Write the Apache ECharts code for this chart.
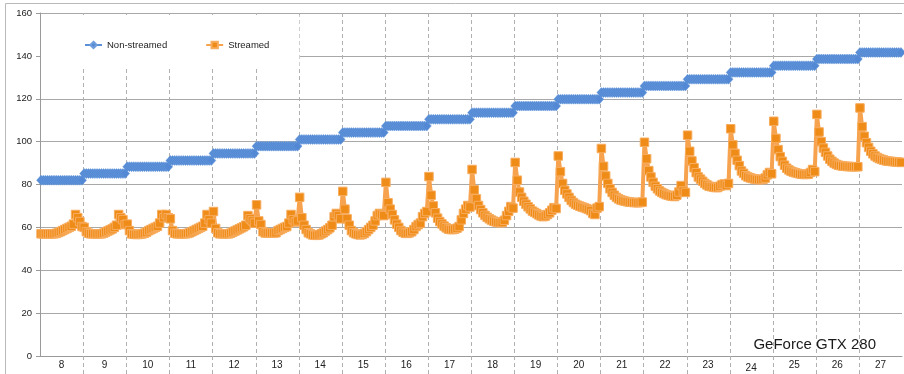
<!DOCTYPE html>
<html>
<head>
<meta charset="utf-8">
<script src="https://cdn.jsdelivr.net/npm/echarts@6/dist/echarts.min.js"></script>
<style>
  html, body { margin: 0; padding: 0; background: #fff; }
  #chart { width: 904px; height: 374px; }
</style>
</head>
<body>
<div id="chart"></div>
<script>
// Size groups shown on the category axis
const sizes = ['8', '9', '10', '11', '12', '13', '14', '15', '16', '17',
               '18', '19', '20', '21', '22', '23', '24', '25', '26', '27'];

// Non-streamed timing: one level per size group
const nonStreamed = [82, 85.1, 88.3, 91.2, 94.5, 97.9, 101, 104.2, 107.3, 110.4,
                     113.5, 116.6, 119.8, 122.9, 126, 129.1, 132.3, 135.4, 138.5, 141.6];

// Streamed timing: 20 samples inside each size group
const streamed8  = [57, 57, 57, 57, 57, 57, 57, 57.2, 57.6, 58, 58.5, 59, 59.5, 60, 60.5, 61.5, 66, 64.5, 62.7, 60.4];
const streamed9  = [60, 58, 57.3, 57, 57, 57, 57, 57, 57, 57.3, 57.8, 58.3, 58.8, 59.3, 60, 61, 66, 64.5, 63.6, 61.3];
const streamed10 = [61.5, 58.5, 57, 56.8, 56.7, 56.7, 56.8, 57, 57.3, 57.8, 58.5, 59, 59.5, 60, 60.5, 62, 66, 64.5, 66, 64.5];
const streamed11 = [64, 58.5, 57.3, 57, 57, 57, 57, 57, 57.2, 57.5, 58, 58.5, 59, 59.5, 60, 60.5, 62, 66, 63.6, 62];
const streamed12 = [67.4, 59.5, 57.5, 57, 57, 57, 57, 57, 57.3, 57.8, 58.3, 58.8, 59.3, 59.8, 60.3, 61, 65.5, 64, 63, 62];
const streamed13 = [70.5, 63, 61.3, 58, 57.4, 57.4, 57.4, 57.4, 57.4, 57.5, 58.5, 59, 59.5, 60, 60.4, 62, 66, 63.6, 62.5, 63];
const streamed14 = [74, 64.5, 61, 59, 57.5, 57, 56.5, 56.3, 56.3, 56.5, 57, 57.5, 58.3, 59, 59.8, 61, 65, 66.5, 65.5, 64];
const streamed15 = [76.8, 68.5, 64, 61, 58.5, 57.5, 57, 56.7, 56.5, 56.7, 57.2, 58, 59, 60, 61, 63, 65.5, 66.5, 66, 65.5];
const streamed16 = [81, 71.5, 68.5, 66, 63.5, 61.5, 60, 58.5, 57.7, 57.3, 57.2, 57.5, 58, 59, 60.4, 61.3, 62, 65, 66.5, 67.4];
const streamed17 = [83.7, 75, 70, 66.8, 64.3, 62.7, 61.6, 60.6, 59.8, 59.2, 59, 59, 59.2, 59.6, 60.4, 63.5, 66.5, 68.5, 70.2, 69.5];
const streamed18 = [87, 77.5, 73.3, 70.2, 68.3, 66.8, 65.6, 64.7, 64, 63.4, 62.9, 62.6, 62.3, 62.2, 62.3, 63.3, 65.5, 67.5, 69.7, 69];
const streamed19 = [90.3, 82, 76.5, 74, 72.2, 70.8, 69.6, 68.6, 67.6, 67, 66.4, 65.8, 65.3, 65, 65.3, 66, 66.8, 68, 69.2, 68.8];
const streamed20 = [93.3, 86, 80.5, 77.3, 75.6, 74, 72.6, 71.6, 70.8, 70.3, 69.9, 69.5, 69.2, 68.8, 68.4, 67.8, 66.5, 66, 69, 69.7];
const streamed21 = [96.8, 88.5, 84, 80.5, 78, 76.3, 75, 74, 73.3, 72.8, 72.5, 72.2, 72, 71.8, 71.7, 71.6, 71.6, 71.5, 71.6, 71.8];
const streamed22 = [99.7, 92, 86.5, 83.5, 81, 79.2, 78, 77, 76.3, 75.8, 75.3, 75, 74.7, 74.5, 74.4, 75, 76.5, 79.5, 77, 76.3];
const streamed23 = [103, 95.5, 91, 87.8, 85.5, 83.5, 82.5, 81.5, 80.5, 79.8, 79.2, 79, 78.8, 78.6, 78.6, 79.2, 80, 80.2, 79.5, 80.5];
const streamed24 = [106, 98.5, 94.5, 91.3, 88.8, 86.3, 85.2, 84.1, 83.5, 83.1, 82.8, 82.6, 82.4, 82.3, 82.3, 82.4, 83, 84.5, 85.6, 85];
const streamed25 = [109.5, 101.5, 96.3, 93, 90.8, 89, 87.6, 86.8, 86.2, 85.8, 85.5, 85.2, 85, 84.8, 84.7, 84.7, 84.8, 85.6, 87, 86];
const streamed26 = [112.7, 104.5, 100, 97, 95, 93.3, 91.8, 90.8, 90, 89.4, 89, 88.8, 88.6, 88.5, 88.4, 88.4, 88.3, 88.3, 88.3, 88.3];
const streamed27 = [115.7, 107, 102.5, 99.5, 97.3, 95.5, 94.3, 93.3, 92.6, 92.1, 91.7, 91.4, 91.1, 90.9, 90.8, 90.7, 90.6, 90.5, 90.4, 90.3];

const streamedGroups = [streamed8, streamed9, streamed10, streamed11, streamed12, streamed13,
  streamed14, streamed15, streamed16, streamed17, streamed18, streamed19, streamed20,
  streamed21, streamed22, streamed23, streamed24, streamed25, streamed26, streamed27];

// Value axis range
const yMin = 0, yMax = 160, yStep = 20;

// Each group spans one unit on the hidden value x axis; samples sit evenly inside it
const nonStreamedData = [];
const streamedData = [];
sizes.forEach((size, k) => {
  const group = streamedGroups[k];
  group.forEach((v, j) => {
    const x = k + (j + 0.5) / group.length;
    nonStreamedData.push([x, nonStreamed[k]]);
    streamedData.push([x, v]);
  });
});

// Dashed separators between size groups
const separators = sizes.slice(1).map((_, i) => [i + 1, yMin]);

const chart = echarts.init(document.getElementById('chart'), null, { renderer: 'canvas' });

chart.setOption({
  animation: false,
  backgroundColor: '#fff',
  textStyle: { fontFamily: '"Liberation Sans", Arial, Helvetica, sans-serif' },
  graphic: [{
    type: 'rect',
    silent: true,
    z: -10,
    shape: { x: 5.5, y: 3.5, width: 1400, height: 1400 },
    style: { fill: 'none', stroke: '#b9b9b9', lineWidth: 1 }
  }],
  title: {
    text: 'GeForce GTX 280',
    right: 28,
    top: 337,
    padding: 0,
    textStyle: { fontSize: 15, fontWeight: 'normal', color: '#1a1a1a' }
  },
  legend: {
    data: ['Non-streamed', 'Streamed'],
    left: 41,
    top: 15,
    padding: [25, 30, 19, 43],
    itemGap: 38,
    itemWidth: 17,
    itemHeight: 8,
    backgroundColor: '#fff',
    z: 10,
    textStyle: { fontSize: 9.5, color: '#222' }
  },
  grid: { left: 40, right: 2, top: 13, bottom: 18, containLabel: false },
  xAxis: [
    {
      type: 'value',
      min: 0,
      max: sizes.length,
      axisLabel: { show: false },
      axisTick: { show: false },
      splitLine: { show: false },
      axisLine: { show: true, lineStyle: { color: '#9a9a9a' } }
    },
    {
      type: 'category',
      data: sizes,
      position: 'bottom',
      boundaryGap: true,
      axisLine: { show: false },
      axisTick: { show: false },
      axisLabel: {
        interval: 0,
        fontSize: 10,
        color: '#222',
        margin: 4,
        formatter: v => (v === '24' ? '{low|' + v + '}' : v),
        rich: { low: { fontSize: 10, color: '#222', padding: [3, 0, 0, 0] } }
      }
    }
  ],
  yAxis: {
    type: 'value',
    min: yMin,
    max: yMax,
    interval: yStep,
    axisLine: { show: true, lineStyle: { color: '#9a9a9a' } },
    axisTick: { show: true, length: 4, lineStyle: { color: '#9a9a9a' } },
    axisLabel: { fontSize: 9.5, color: '#222', margin: 8 },
    splitLine: { show: true, lineStyle: { color: '#a8a8a8', width: 1 } }
  },
  series: [
    {
      type: 'custom',
      name: 'separators',
      xAxisIndex: 0,
      yAxisIndex: 0,
      data: separators,
      encode: { x: 0, y: 1 },
      clip: false,
      silent: true,
      z: 1,
      renderItem: (params, api) => {
        const top = api.coord([api.value(0), yMax]);
        const base = api.coord([api.value(0), yMin]);
        const x = Math.round(top[0]) + 0.5;
        return {
          type: 'line',
          shape: { x1: x, y1: top[1], x2: x, y2: base[1] + 18 },
          style: { stroke: '#b0b0b0', lineWidth: 1, lineDash: [4, 3] }
        };
      }
    },
    {
      type: 'line',
      name: 'Non-streamed',
      xAxisIndex: 0,
      data: nonStreamedData,
      symbol: 'diamond',
      symbolSize: [9, 10],
      showAllSymbol: true,
      lineStyle: { color: '#5b8fd6', width: 3 },
      itemStyle: { color: '#5389d4', borderColor: '#6f9edd', borderWidth: 0.5 },
      z: 3
    },
    {
      type: 'line',
      name: 'Streamed',
      xAxisIndex: 0,
      data: streamedData,
      symbol: 'rect',
      symbolSize: 8.5,
      showAllSymbol: true,
      lineStyle: { color: '#f6a24e', width: 4 },
      itemStyle: { color: '#ef8b17', borderColor: '#f7ad60', borderWidth: 1 },
      z: 4
    }
  ]
});
</script>
</body>
</html>
